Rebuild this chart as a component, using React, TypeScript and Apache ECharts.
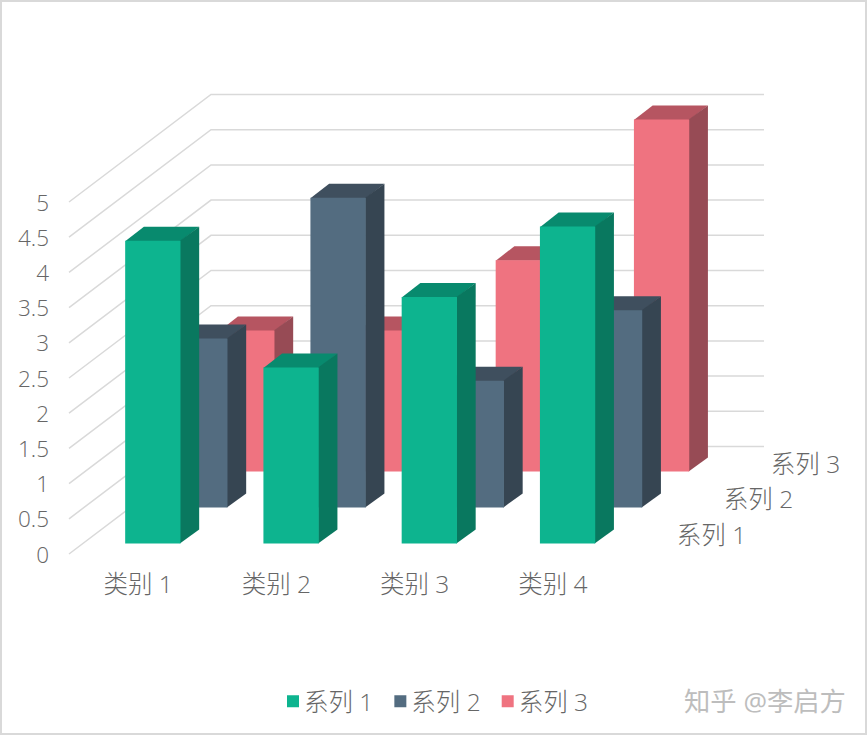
import React, { useEffect, useRef } from "react";
import * as echarts from "echarts";

const categories = ["类别 1", "类别 2", "类别 3", "类别 4"];
const seriesNames = ["系列 1", "系列 2", "系列 3"];
const series1 = [4.3, 2.5, 3.5, 4.5];
const series2 = [2.4, 4.4, 1.8, 2.8];
const series3 = [2, 2, 3, 5];
const yTicks = [0, 0.5, 1, 1.5, 2, 2.5, 3, 3.5, 4, 4.5, 5];
const frontColors = ["#0DB48F", "#536C80", "#EF7380"];
const topColors = ["#088A6E", "#3F4F5E", "#B65561"];
const sideColors = ["#09785F", "#364552", "#974B55"];

const FONT = "'Open Sans', 'Noto Sans CJK SC', sans-serif";
const TEXT = "#666666";
const GRID = "#D9D9D9";
const WEIGHT = 300;
const LABEL_SIZE = 24.5;

const barRenderer = (depthIndex: number) => (params: any, api: any) => {
  const idx = api.value(0);
  const top = api.coord([idx, api.value(1)]);
  const base = api.coord([idx, 0]);
  const w = api.size([1, 0])[0] * 0.4;
  const dx = 14.7 + depthIndex * 47;
  const dy = -10.6 - depthIndex * 36;
  const l = top[0] + dx - w / 2;
  const r = l + w;
  const t = top[1] + dy;
  const b = base[1] + dy;
  const ox = 18.7;
  const oy = -14;
  const lap = 0.6;
  return {
    type: "group",
    children: [
      { type: "polygon", shape: { points: [[l, t + lap], [r, t + lap], [r + ox, t + oy], [l + ox, t + oy]] }, style: { fill: topColors[depthIndex] } },
      { type: "polygon", shape: { points: [[r - lap, t], [r + ox, t + oy], [r + ox, b + oy], [r - lap, b]] }, style: { fill: sideColors[depthIndex] } },
      { type: "rect", shape: { x: l, y: t, width: w, height: b - t }, style: { fill: frontColors[depthIndex] } },
    ],
  };
};

const wallRenderer = (params: any, api: any) => {
  const y = api.coord([0, api.value(1)])[1];
  const x0 = params.coordSys.x;
  return {
    type: "polyline",
    shape: { points: [[x0, y], [x0 + 142, y - 107.5], [x0 + 695, y - 107.5]] },
    style: { stroke: GRID, lineWidth: 1.5, fill: "none" },
  };
};

export default function App() {
  const ref = useRef<HTMLDivElement>(null);
  useEffect(() => {
    document.body.style.margin = "0";
    const chart = echarts.init(ref.current!, undefined, { renderer: "svg" });
    const values = [series1, series2, series3];
    const order = [2, 1, 0];
    chart.setOption({
      animation: false,
      backgroundColor: "#FFFFFF",
      textStyle: { fontFamily: FONT },
      grid: { left: 69, top: 202, width: 553, height: 352, containLabel: false },
      xAxis: {
        type: "category",
        data: categories,
        axisLine: { show: false },
        axisTick: { show: false },
        axisLabel: { color: TEXT, fontSize: LABEL_SIZE, fontWeight: WEIGHT, fontFamily: FONT, margin: 17, interval: 0 },
      },
      yAxis: {
        type: "value",
        min: 0,
        max: 5,
        interval: 0.5,
        axisLine: { show: false },
        axisTick: { show: false },
        splitLine: { show: false },
        axisLabel: { color: TEXT, fontSize: 22.5, fontWeight: WEIGHT, fontFamily: FONT, margin: 20, padding: [0, 0, 8, 0] },
      },
      legend: {
        left: 282,
        top: 684,
        itemWidth: 12,
        itemHeight: 12,
        itemGap: 21,
        icon: "rect",
        selectedMode: false,
        data: seriesNames,
        textStyle: { color: TEXT, fontSize: LABEL_SIZE, fontWeight: WEIGHT, fontFamily: FONT },
      },
      series: [
        {
          type: "custom",
          name: "wall",
          silent: true,
          renderItem: wallRenderer,
          encode: { x: 0, y: 1 },
          data: yTicks.map((v) => [0, v]),
        },
        ...order.map((s) => ({
          type: "custom",
          name: seriesNames[s],
          itemStyle: { color: frontColors[s] },
          renderItem: barRenderer(s),
          encode: { x: 0, y: 1 },
          data: values[s].map((v, i) => [i, v]),
        })),
      ],
      graphic: [
        {
          type: "rect",
          z: 0,
          shape: { x: 1, y: 1, width: 865, height: 733 },
          style: { fill: "none", stroke: GRID, lineWidth: 2 },
        },
        ...seriesNames.map((name, s) => ({
          type: "text",
          x: 711.5 + s * 47,
          y: 534 - s * 35.5,
          style: { text: name, fill: TEXT, fontSize: LABEL_SIZE, fontWeight: WEIGHT, fontFamily: FONT, align: "center", verticalAlign: "middle" },
        })),
        {
          type: "text",
          x: 684,
          y: 701,
          style: { text: "知乎 @李启方", fill: "#BDBDBD", fontSize: 26.3, fontFamily: FONT, align: "left", verticalAlign: "middle" },
        },
      ],
    });
    return () => chart.dispose();
  }, []);
  return <div ref={ref} style={{ width: 867, height: 735 }} />;
}
